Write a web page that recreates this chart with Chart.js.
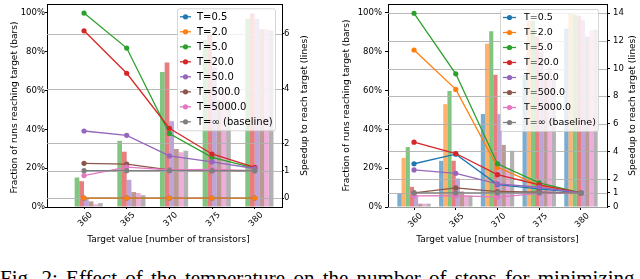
<!DOCTYPE html>
<html>
<head>
<meta charset="utf-8">
<script src="https://cdn.jsdelivr.net/npm/chart.js@4"></script>
<style>
  html, body { margin: 0; padding: 0; background: #fff; }
  body { width: 640px; height: 279px; overflow: hidden; position: relative; }
  #left { position: absolute; left: 0; top: 0; }
  #right { position: absolute; left: 320px; top: 0; }
  #caption { position: absolute; left: 0; top: 266px; font: 21px 'Liberation Serif'; white-space: nowrap; color: #000; word-spacing: 3px; }
</style>
</head>
<body>
<canvas id="left" width="320" height="250"></canvas>
<canvas id="right" width="320" height="250"></canvas>
<div id="caption">Fig. 2: Effect of the temperature on the number of steps for minimizing</div>
<script>
// target values on the x axis
const targets = [360, 365, 370, 375, 380];
// one series per temperature
const temps = ['T=0.5', 'T=2.0', 'T=5.0', 'T=20.0', 'T=50.0', 'T=500.0', 'T=5000.0', 'T=\u221e (baseline)'];
const colors = ['#1f77b4', '#ff7f0e', '#2ca02c', '#d62728', '#9467bd', '#8c564b', '#e377c2', '#7f7f7f'];

// left plot - fraction of runs reaching target (%), one row per temperature
const leftFraction = [
  [0, 0, 0, 0, 0],
  [0, 0, 0, 0, 0],
  [15.2, 34.1, 69.6, 86, 97],
  [13.3, 28.5, 74.4, 89, 99.7],
  [4.3, 14, 44.2, 72, 97],
  [2.9, 7.7, 29.9, 55, 91.6],
  [1.4, 7.2, 28.2, 60, 91.6],
  [2, 6.1, 29, 55, 91]
];
// left plot - speedup to reach target
const leftSpeedup = [
  [0, 0, 0, 0, 0],
  [0, 0, 0, 0, 0],
  [6.76, 5.48, 2.36, 1.49, 1.09],
  [6.11, 4.56, 2.55, 1.61, 1.12],
  [2.45, 2.29, 1.54, 1.32, 1.08],
  [1.27, 1.24, 1.03, 1.0, 1.0],
  [0.82, 1.13, 1.03, 1.05, 1.0],
  [1, 1, 1, 1, 1]
];

// right plot - fraction of runs reaching target (%)
const rightFraction = [
  [7.2, 23.8, 47.9, 68, 91.8],
  [25.3, 53, 84.1, 96, 100],
  [30.9, 59.8, 90.6, 96, 99],
  [10.4, 23.8, 68.2, 88, 98.6],
  [6, 14.7, 47.9, 80, 96.4],
  [1.7, 8, 32, 66, 87.9],
  [1.7, 5.8, 20, 72, 91],
  [1.7, 5.8, 29, 66, 91.3]
];
// right plot - speedup to reach target
const rightSpeedup = [
  [3.11, 3.8, 1.6, 1.29, 1.0],
  [11.34, 8.49, 2.85, 1.55, 1.0],
  [14.0, 9.62, 3.11, 1.72, 1.0],
  [4.67, 3.85, 2.32, 1.58, 1.0],
  [2.66, 2.42, 1.65, 1.41, 1.0],
  [1.0, 1.36, 1.1, 1.05, 1.0],
  [0.78, 0.8, 0.7, 0.96, 1.0],
  [1, 1, 1, 1, 1]
];

const pctTicks = [0, 20, 40, 60, 80, 100];
const leftSpeedTicks = [0, 1, 2, 4, 6];
const rightSpeedTicks = [0, 1, 2, 4, 6, 8, 10, 12, 14];

const xTitle = 'Target value [number of transistors]';
const yTitle = 'Fraction of runs reaching target (bars)';
const y2Title = 'Speedup to reach target (lines)';

const FONT = "'DejaVu Sans'";
Chart.defaults.color = '#000';
Chart.defaults.font.family = FONT;

function alpha(hex, a) {
  const n = parseInt(hex.slice(1), 16);
  return 'rgba(' + (n >> 16) + ',' + ((n >> 8) & 255) + ',' + (n & 255) + ',' + a + ')';
}

function text(ctx, str, x, y, rot) {
  ctx.save();
  ctx.translate(x, y);
  ctx.rotate(rot);
  ctx.textAlign = 'center';
  ctx.textBaseline = 'middle';
  ctx.fillText(str, 0, 0);
  ctx.restore();
}

// grid of the speedup axis sits above the bars but under the lines,
// plus the top spine, axis titles and the legend box
const overlay = {
  id: 'overlay',
  beforeDatasetsDraw(chart) { chart.$gridDone = false; },
  beforeDatasetDraw(chart, args) {
    if (args.meta.type !== 'line' || chart.$gridDone) return;
    chart.$gridDone = true;
    const ctx = chart.ctx, a = chart.chartArea, s = chart.scales.y2;
    ctx.save();
    ctx.strokeStyle = '#b0b0b0';
    ctx.lineWidth = 0.9;
    s.ticks.forEach(t => {
      const y = Math.round(s.getPixelForValue(t.value)) + 0.5;
      ctx.beginPath();
      ctx.moveTo(a.left, y);
      ctx.lineTo(a.right, y);
      ctx.stroke();
    });
    ctx.restore();
  },
  afterDatasetsDraw(chart, args, o) {
    const ctx = chart.ctx, a = chart.chartArea;
    ctx.save();
    ctx.strokeStyle = '#000';
    ctx.lineWidth = 1;
    ctx.beginPath();
    ctx.moveTo(a.left, Math.round(a.top) + 0.5);
    ctx.lineTo(a.right, Math.round(a.top) + 0.5);
    ctx.stroke();

    // axis titles
    ctx.fillStyle = '#000';
    ctx.font = o.titleSize + 'px ' + FONT;
    const midY = (a.top + a.bottom) / 2;
    text(ctx, yTitle, o.yTitleX, midY + o.yTitleDy, -Math.PI / 2);
    text(ctx, y2Title, o.y2TitleX, midY, -Math.PI / 2);
    text(ctx, xTitle, (a.left + a.right) / 2 + o.xTitleDx, o.xTitleY, 0);

    // legend
    const x0 = a.right - o.right - o.width, y0 = a.top + o.top;
    const h = o.pad * 2 + temps.length * o.row;
    ctx.beginPath();
    ctx.roundRect(x0 + 0.5, y0 + 0.5, o.width, h, 2);
    ctx.fillStyle = 'rgba(255,255,255,0.8)';
    ctx.fill();
    ctx.strokeStyle = 'rgba(204,204,204,0.8)';
    ctx.stroke();
    ctx.font = o.fontSize + 'px ' + FONT;
    ctx.textBaseline = 'middle';
    temps.forEach((t, i) => {
      const cy = y0 + o.pad + o.row * (i + 0.5);
      ctx.strokeStyle = colors[i];
      ctx.lineWidth = 1.3;
      ctx.beginPath();
      ctx.moveTo(x0 + o.handleX, cy);
      ctx.lineTo(x0 + o.handleX + o.handleLen, cy);
      ctx.stroke();
      ctx.fillStyle = colors[i];
      ctx.beginPath();
      ctx.arc(x0 + o.handleX + o.handleLen / 2, cy, 2.6, 0, Math.PI * 2);
      ctx.fill();
      ctx.fillStyle = '#000';
      ctx.fillText(t, x0 + o.textX, cy + 0.5);
    });
    ctx.restore();
  }
};

function makeChart(id, fraction, speedup, speedTicks, c) {
  const datasets = [];
  temps.forEach((t, i) => {
    datasets.push({
      type: 'bar',
      label: t,
      data: targets.map((x, j) => ({ x: x, y: fraction[i][j] })),
      backgroundColor: alpha(colors[i], 0.6),
      borderWidth: 0,
      yAxisID: 'y',
      order: 100,
      categoryPercentage: c.groupWidth,
      barPercentage: 1
    });
  });
  temps.forEach((t, i) => {
    datasets.push({
      type: 'line',
      label: t,
      data: targets.map((x, j) => ({ x: x, y: speedup[i][j] })),
      borderColor: colors[i],
      backgroundColor: colors[i],
      pointBackgroundColor: colors[i],
      borderWidth: 1.3,
      pointRadius: 2.6,
      pointBorderWidth: 0,
      tension: 0,
      fill: false,
      yAxisID: 'y2',
      order: 50 - i
    });
  });

  const tickFont = { size: c.tickSize, family: FONT };
  const fixV = w => s => { s.width = w; s.paddingTop = 0; s.paddingBottom = 0; };

  return new Chart(document.getElementById(id), {
    type: 'bar',
    data: { datasets: datasets },
    plugins: [overlay],
    options: {
      responsive: false,
      animation: false,
      layout: { padding: { top: 3, left: 0, right: 0, bottom: 0 } },
      plugins: {
        legend: { display: false },
        tooltip: { enabled: false },
        overlay: c.overlay
      },
      scales: {
        x: {
          type: 'linear',
          min: c.xMin,
          max: c.xMax,
          offset: false,
          afterBuildTicks: s => { s.ticks = targets.map(v => ({ value: v })); },
          afterFit: s => { s.height = c.xHeight; s.paddingLeft = 0; s.paddingRight = 0; },
          grid: { display: true, offset: false, drawOnChartArea: false, drawTicks: true, tickLength: c.tickLen, color: '#000' },
          border: { display: true, color: '#000', width: 1 },
          ticks: { minRotation: 45, maxRotation: 45, padding: 1, labelOffset: c.labelOffset, font: tickFont, callback: v => String(v) }
        },
        y: {
          position: 'left',
          min: 0,
          max: c.yMax,
          afterBuildTicks: s => { s.ticks = pctTicks.map(v => ({ value: v })); },
          afterFit: fixV(c.yWidth),
          grid: { display: true, drawOnChartArea: false, drawTicks: true, tickLength: c.tickLen, color: '#000' },
          border: { display: true, color: '#000', width: 1 },
          ticks: { padding: c.tickPad, font: tickFont, callback: v => v + '%' }
        },
        y2: {
          position: 'right',
          min: c.y2Min,
          max: c.y2Max,
          afterBuildTicks: s => { s.ticks = speedTicks.map(v => ({ value: v })); },
          afterFit: fixV(c.y2Width),
          grid: { display: true, drawOnChartArea: false, drawTicks: true, tickLength: c.tickLen, color: '#000' },
          border: { display: true, color: '#000', width: 1 },
          ticks: { padding: c.tickPad, font: tickFont, callback: v => String(v) }
        }
      }
    }
  });
}

makeChart('left', leftFraction, leftSpeedup, leftSpeedTicks, {
  xMin: 355.66, xMax: 383.2, groupWidth: 0.88,
  yMax: 104.6, y2Min: -0.327, y2Max: 7.09,
  yWidth: 47, y2Width: 38, xHeight: 43,
  tickLen: 2, tickPad: 0, tickSize: 8.5, labelOffset: 7,
  overlay: {
    titleSize: 9, yTitleX: 15, yTitleDy: 2, y2TitleX: 305, xTitleY: 240, xTitleDx: 4,
    right: 7, top: 4.3, width: 98, row: 15, pad: 1, handleX: 3, handleLen: 11, textX: 20, fontSize: 10
  }
});

makeChart('right', rightFraction, rightSpeedup, rightSpeedTicks, {
  xMin: 356.88, xMax: 383.12, groupWidth: 0.8,
  yMax: 104.6, y2Min: -0.02, y2Max: 14.67,
  yWidth: 68, y2Width: 33, xHeight: 43,
  tickLen: 3, tickPad: 3, tickSize: 8.5, labelOffset: 7,
  overlay: {
    titleSize: 9, yTitleX: 27, yTitleDy: 0, y2TitleX: 313, xTitleY: 240, xTitleDx: 0,
    right: 9, top: 5, width: 98, row: 15, pad: 1, handleX: 3, handleLen: 13, textX: 24, fontSize: 9.5
  }
});
</script>
</body>
</html>
